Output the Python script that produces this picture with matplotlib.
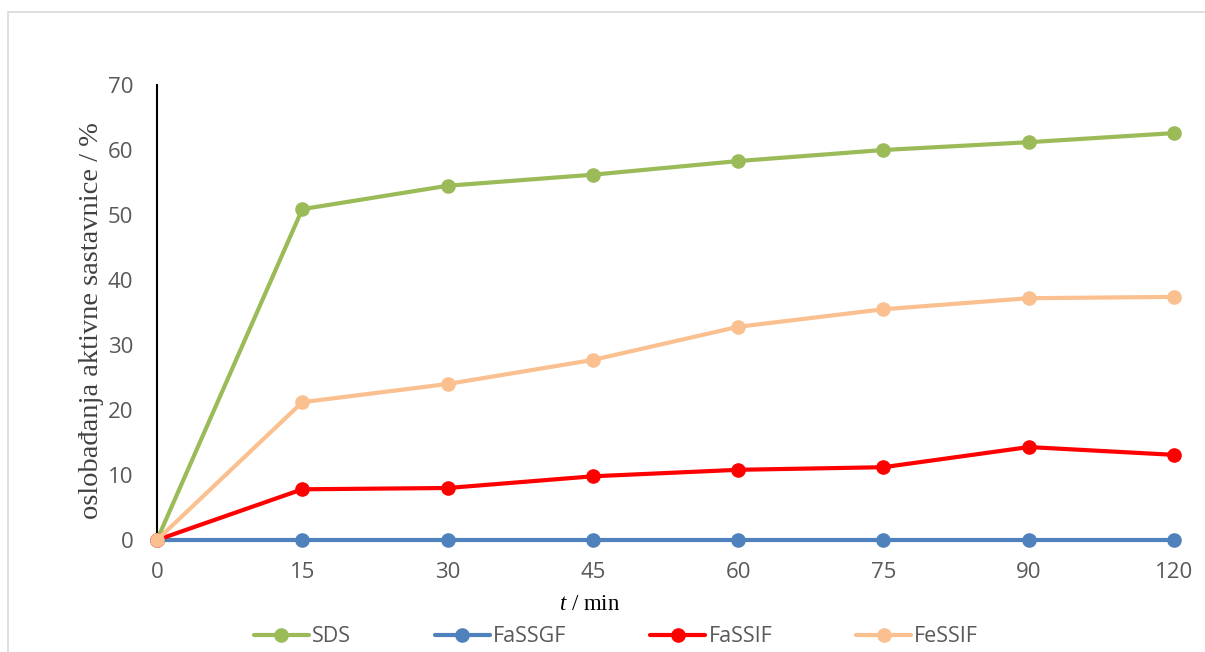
import matplotlib
matplotlib.use("Agg")
import matplotlib.pyplot as plt
from matplotlib.patches import Rectangle

plt.rcParams["mathtext.fontset"] = "custom"
plt.rcParams["mathtext.it"] = "Liberation Serif:italic"
plt.rcParams["mathtext.rm"] = "Liberation Serif"

time_labels = ["0", "15", "30", "45", "60", "75", "90", "120"]
sds = [0, 50.9, 54.5, 56.2, 58.3, 60.0, 61.2, 62.6]
fassgf = [0, 0, 0, 0, 0, 0, 0, 0]
fassif = [0, 7.8, 8.0, 9.8, 10.8, 11.2, 14.3, 13.1]
fessif = [0, 21.2, 24.0, 27.7, 32.8, 35.5, 37.2, 37.4]
y_ticks = [0, 10, 20, 30, 40, 50, 60, 70]

series = [
    ("SDS", sds, "#9BBB59"),
    ("FaSSGF", fassgf, "#4F81BD"),
    ("FaSSIF", fassif, "#FF0000"),
    ("FeSSIF", fessif, "#FAC090"),
]

W, H = 1205, 652
fig = plt.figure(figsize=(W / 100, H / 100), dpi=100)
fig.patches.append(Rectangle((8 / W, -0.05), 1.2, 1 - 12 / H + 0.05,
                             transform=fig.transFigure, fill=False,
                             edgecolor="#D9D9D9", linewidth=1.2))

ax = fig.add_axes([157 / W, (H - 540) / H, (1174 - 157) / W, (540 - 85) / H])
x = list(range(len(time_labels)))
for name, vals, col in series:
    ax.plot(x, vals, color=col, linewidth=3, marker="o", markersize=9.5,
            label=name, clip_on=False, solid_capstyle="round", zorder=3)

ax.set_xlim(0, len(time_labels) - 1)
ax.set_ylim(0, 70)
ax.set_yticks(y_ticks)
ax.set_xticks(x)
ax.set_xticklabels(time_labels)
for s in ["top", "right", "bottom"]:
    ax.spines[s].set_visible(False)
ax.spines["left"].set_color("black")
ax.spines["left"].set_linewidth(1.5)
ax.tick_params(axis="both", length=0, labelsize=16, labelcolor="#595959")
ax.tick_params(axis="y", pad=17)
ax.tick_params(axis="x", pad=16)
for lab in ax.get_xticklabels() + ax.get_yticklabels():
    lab.set_fontfamily("Open Sans")

fig.text(92 / W, 1 - 321 / H, "oslobađanja aktivne sastavnice / %",
         family="Liberation Serif", fontsize=20.5, color="#404040",
         rotation=90, ha="center", va="center")
fig.text(590 / W, 1 - 605 / H, r"$t$ / min", family="Liberation Serif",
         fontsize=16.5, color="black", ha="center", va="center")

leg = fig.legend(loc="center", bbox_to_anchor=(616 / W, 1 - 637 / H), ncol=4,
                 frameon=False, handlelength=2.55, columnspacing=3.9,
                 handletextpad=0.15, borderpad=0,
                 prop={"family": "Open Sans", "size": 15.5})
for t in leg.get_texts():
    t.set_color("#595959")

fig.savefig("out.png", dpi=100)
